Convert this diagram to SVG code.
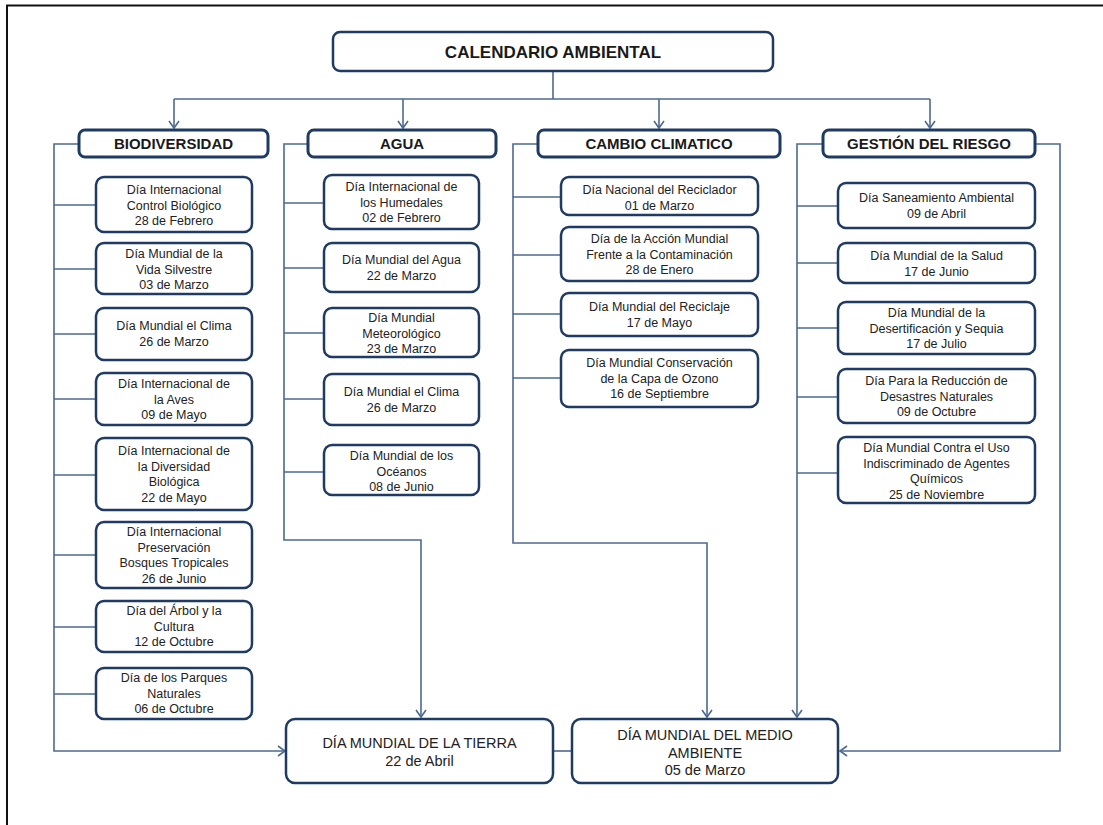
<svg xmlns="http://www.w3.org/2000/svg" width="1103" height="825" viewBox="0 0 1103 825">
<style>
.frame{fill:none;stroke:#111;stroke-width:2}
.box{fill:#fff;stroke:#1f3b63;stroke-width:2.5}
.cat{fill:#fff;stroke:#1f3b63;stroke-width:3}
.ln{fill:none;stroke:#4d6a8f;stroke-width:1.6}
.t{font-family:"Liberation Sans",Arial,sans-serif;font-size:12.5px;fill:#222;text-anchor:middle}
.tc{font-family:"Liberation Sans",Arial,sans-serif;font-size:15px;font-weight:bold;fill:#1a1a1a;text-anchor:middle}
.th{font-family:"Liberation Sans",Arial,sans-serif;font-size:17px;font-weight:bold;fill:#1a1a1a;text-anchor:middle}
.tb{font-family:"Liberation Sans",Arial,sans-serif;font-size:14.5px;fill:#222;text-anchor:middle}
</style>
<defs>
<marker id="ah" markerUnits="userSpaceOnUse" markerWidth="10" markerHeight="12" refX="8" refY="6" orient="auto">
<path d="M1,1 L8,6 L1,11" fill="none" stroke="#4d6a8f" stroke-width="1.6"/>
</marker>
</defs>
<rect width="1103" height="825" fill="#fff"/>
<path class="frame" d="M7,825 V5.5 H1103"/>

<g id="connectors">
<path class="ln" d="M553,71 V99"/>
<path class="ln" d="M174,99 H930"/>
<path class="ln" d="M174,99 V128" marker-end="url(#ah)"/>
<path class="ln" d="M403,99 V128" marker-end="url(#ah)"/>
<path class="ln" d="M659,99 V128" marker-end="url(#ah)"/>
<path class="ln" d="M930,99 V128" marker-end="url(#ah)"/>
<path class="ln" d="M79,144 H54 V751 H285" marker-end="url(#ah)"/>
<path class="ln" d="M54,205 H96 M54,269 H96 M54,334 H96 M54,399 H96 M54,475 H96 M54,555 H96 M54,627 H96 M54,694 H96"/>
<path class="ln" d="M308,144 H284 V540 H421 V717" marker-end="url(#ah)"/>
<path class="ln" d="M284,203 H324 M284,268 H324 M284,333 H324 M284,399 H324 M284,472 H324"/>
<path class="ln" d="M538,144 H513 V543 H707 V717" marker-end="url(#ah)"/>
<path class="ln" d="M513,197 H561 M513,255 H561 M513,314 H561 M513,378 H561"/>
<path class="ln" d="M823,144 H797 V717" marker-end="url(#ah)"/>
<path class="ln" d="M797,206 H838 M797,263 H838 M797,328 H838 M797,397 H838 M797,473 H838"/>
<path class="ln" d="M1035,144 H1060 V751 H840" marker-end="url(#ah)"/>
<path class="ln" d="M553,751 H572"/>
</g>

<g id="calendario">
<rect class="box" x="333" y="32" width="440" height="39" rx="7"/>
<text class="th" x="553" y="57.5">CALENDARIO AMBIENTAL</text>
</g>

<g id="biodiversidad">
<rect class="cat" x="79" y="130" width="189" height="27" rx="6"/>
<text class="tc" x="173.5" y="149">BIODIVERSIDAD</text>
</g>
<g id="agua">
<rect class="cat" x="308" y="130" width="188" height="27" rx="6"/>
<text class="tc" x="402" y="149">AGUA</text>
</g>
<g id="cambio">
<rect class="cat" x="538" y="130" width="242" height="27" rx="6"/>
<text class="tc" x="659" y="149">CAMBIO CLIMATICO</text>
</g>
<g id="gestion">
<rect class="cat" x="823" y="130" width="212" height="27" rx="6"/>
<text class="tc" x="929" y="149">GESTIÓN DEL RIESGO</text>
</g>

<g id="b1"><rect class="box" x="96" y="177" width="156" height="55" rx="8"/>
<text class="t" x="174" y="194">Día Internacional<tspan x="174" dy="15.5">Control Biológico</tspan><tspan x="174" dy="15.5">28 de Febrero</tspan></text></g>
<g id="b2"><rect class="box" x="96" y="243" width="156" height="51" rx="8"/>
<text class="t" x="174" y="258">Día Mundial de la<tspan x="174" dy="15.5">Vida Silvestre</tspan><tspan x="174" dy="15.5">03 de Marzo</tspan></text></g>
<g id="b3"><rect class="box" x="96" y="308" width="156" height="52" rx="8"/>
<text class="t" x="174" y="330">Día Mundial el Clima<tspan x="174" dy="15.5">26 de Marzo</tspan></text></g>
<g id="b4"><rect class="box" x="96" y="373" width="156" height="52" rx="8"/>
<text class="t" x="174" y="388">Día Internacional de<tspan x="174" dy="15.5">la Aves</tspan><tspan x="174" dy="15.5">09 de Mayo</tspan></text></g>
<g id="b5"><rect class="box" x="96" y="438" width="156" height="72" rx="8"/>
<text class="t" x="174" y="455">Día Internacional de<tspan x="174" dy="15.5">la Diversidad</tspan><tspan x="174" dy="15.5">Biológica</tspan><tspan x="174" dy="15.5">22 de Mayo</tspan></text></g>
<g id="b6"><rect class="box" x="96" y="522" width="156" height="66" rx="8"/>
<text class="t" x="174" y="536">Día Internacional<tspan x="174" dy="15.5">Preservación</tspan><tspan x="174" dy="15.5">Bosques Tropicales</tspan><tspan x="174" dy="15.5">26 de Junio</tspan></text></g>
<g id="b7"><rect class="box" x="96" y="601" width="156" height="51" rx="8"/>
<text class="t" x="174" y="615">Día del Árbol y la<tspan x="174" dy="15.5">Cultura</tspan><tspan x="174" dy="15.5">12 de Octubre</tspan></text></g>
<g id="b8"><rect class="box" x="96" y="668" width="156" height="51" rx="8"/>
<text class="t" x="174" y="682">Día de los Parques<tspan x="174" dy="15.5">Naturales</tspan><tspan x="174" dy="15.5">06 de Octubre</tspan></text></g>

<g id="a1"><rect class="box" x="324" y="175" width="155" height="54" rx="8"/>
<text class="t" x="401.5" y="191">Día Internacional de<tspan x="401.5" dy="15.5">los Humedales</tspan><tspan x="401.5" dy="15.5">02 de Febrero</tspan></text></g>
<g id="a2"><rect class="box" x="324" y="243" width="155" height="49" rx="8"/>
<text class="t" x="401.5" y="264">Día Mundial del Agua<tspan x="401.5" dy="15.5">22 de Marzo</tspan></text></g>
<g id="a3"><rect class="box" x="324" y="308" width="155" height="49" rx="8"/>
<text class="t" x="401.5" y="322">Día Mundial<tspan x="401.5" dy="15.5">Meteorológico</tspan><tspan x="401.5" dy="15.5">23 de Marzo</tspan></text></g>
<g id="a4"><rect class="box" x="324" y="374" width="155" height="51" rx="8"/>
<text class="t" x="401.5" y="396">Día Mundial el Clima<tspan x="401.5" dy="15.5">26 de Marzo</tspan></text></g>
<g id="a5"><rect class="box" x="324" y="445" width="155" height="50" rx="8"/>
<text class="t" x="401.5" y="460">Día Mundial de los<tspan x="401.5" dy="15.5">Océanos</tspan><tspan x="401.5" dy="15.5">08 de Junio</tspan></text></g>

<g id="c1"><rect class="box" x="561" y="177" width="197" height="38" rx="8"/>
<text class="t" x="659.5" y="194">Día Nacional del Reciclador<tspan x="659.5" dy="15.5">01 de Marzo</tspan></text></g>
<g id="c2"><rect class="box" x="561" y="227" width="197" height="54" rx="8"/>
<text class="t" x="659.5" y="243">Día de la Acción Mundial<tspan x="659.5" dy="15.5">Frente a la Contaminación</tspan><tspan x="659.5" dy="15.5">28 de Enero</tspan></text></g>
<g id="c3"><rect class="box" x="561" y="293" width="197" height="43" rx="8"/>
<text class="t" x="659.5" y="311">Día Mundial del Reciclaje<tspan x="659.5" dy="15.5">17 de Mayo</tspan></text></g>
<g id="c4"><rect class="box" x="561" y="350" width="197" height="57" rx="8"/>
<text class="t" x="659.5" y="367">Día Mundial Conservación<tspan x="659.5" dy="15.5">de la Capa de Ozono</tspan><tspan x="659.5" dy="15.5">16 de Septiembre</tspan></text></g>

<g id="g1"><rect class="box" x="838" y="183" width="197" height="45" rx="8"/>
<text class="t" x="936.5" y="202">Día Saneamiento Ambiental<tspan x="936.5" dy="15.5">09 de Abril</tspan></text></g>
<g id="g2"><rect class="box" x="838" y="243" width="197" height="40" rx="8"/>
<text class="t" x="936.5" y="260">Día Mundial de la Salud<tspan x="936.5" dy="15.5">17 de Junio</tspan></text></g>
<g id="g3"><rect class="box" x="838" y="302" width="197" height="52" rx="8"/>
<text class="t" x="936.5" y="317">Día Mundial de la<tspan x="936.5" dy="15.5">Desertificación y Sequia</tspan><tspan x="936.5" dy="15.5">17 de Julio</tspan></text></g>
<g id="g4"><rect class="box" x="838" y="369" width="197" height="54" rx="8"/>
<text class="t" x="936.5" y="385">Día Para la Reducción de<tspan x="936.5" dy="15.5">Desastres Naturales</tspan><tspan x="936.5" dy="15.5">09 de Octubre</tspan></text></g>
<g id="g5"><rect class="box" x="838" y="437" width="197" height="66" rx="8"/>
<text class="t" x="936.5" y="452">Día Mundial Contra el Uso<tspan x="936.5" dy="15.5">Indiscriminado de Agentes</tspan><tspan x="936.5" dy="15.5">Químicos</tspan><tspan x="936.5" dy="15.5">25 de Noviembre</tspan></text></g>

<g id="tierra"><rect class="box" x="286" y="719" width="267" height="64" rx="9"/>
<text class="tb" x="419.5" y="748">DÍA MUNDIAL DE LA TIERRA<tspan x="419.5" dy="18">22 de Abril</tspan></text></g>
<g id="medio"><rect class="box" x="572" y="719" width="266" height="64" rx="9"/>
<text class="tb" x="705" y="740">DÍA MUNDIAL DEL MEDIO<tspan x="705" dy="17.5">AMBIENTE</tspan><tspan x="705" dy="17.5">05 de Marzo</tspan></text></g>
</svg>
